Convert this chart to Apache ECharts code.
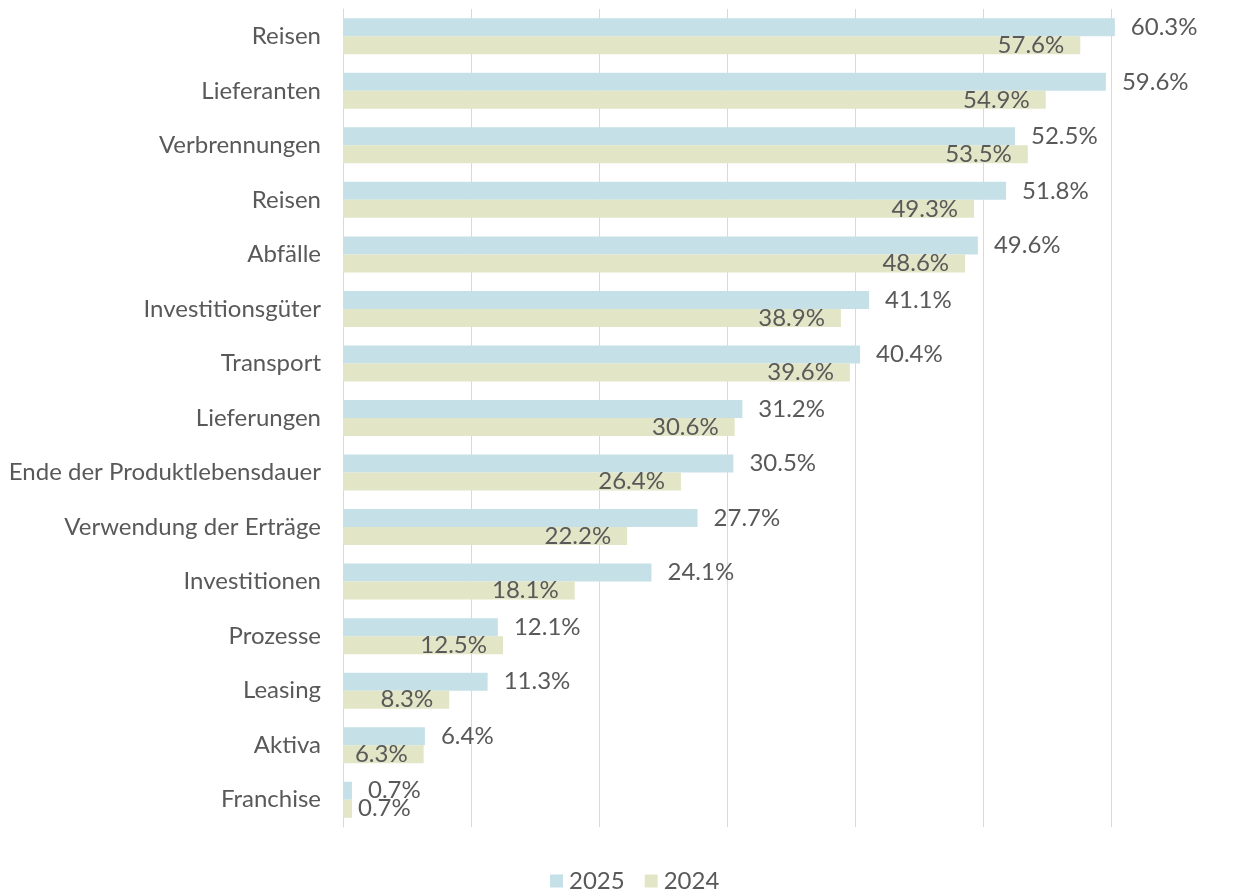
<!DOCTYPE html>
<html>
<head>
<meta charset="utf-8">
<script src="https://cdn.jsdelivr.net/npm/echarts@6/dist/echarts.min.js"></script>
<style>
  html, body { margin: 0; padding: 0; background: #fff; }
  #chart { width: 1236px; height: 891px; }
</style>
</head>
<body>
<div id="chart"></div>
<script>
const categories = ['Reisen', 'Lieferanten', 'Verbrennungen', 'Reisen', 'Abfälle', 'Investitionsgüter', 'Transport',
  'Lieferungen', 'Ende der Produktlebensdauer', 'Verwendung der Erträge', 'Investitionen', 'Prozesse', 'Leasing', 'Aktiva', 'Franchise'];
const values2025 = [60.3, 59.6, 52.5, 51.8, 49.6, 41.1, 40.4, 31.2, 30.5, 27.7, 24.1, 12.1, 11.3, 6.4, 0.7];
const values2024 = [57.6, 54.9, 53.5, 49.3, 48.6, 38.9, 39.6, 30.6, 26.4, 22.2, 18.1, 12.5, 8.3, 6.3, 0.7];

const textColor = '#595959';
const fontFamily = 'Lato, "Noto Sans", sans-serif';
const fontSize = 24;

const chart = echarts.init(document.getElementById('chart'));

// 2024 labels sit inside the bar end; tiny bars get the label outside
const data2024 = values2024.map(v => v < 3
  ? { value: v, label: { position: 'right', distance: 6 } }
  : v);

chart.setOption({
  animation: false,
  textStyle: { fontFamily: fontFamily },
  legend: {
    top: 864,
    left: 545,
    padding: 5,
    itemWidth: 13,
    itemHeight: 13,
    itemGap: 20,
    icon: 'rect',
    textStyle: { color: textColor, fontSize: fontSize, fontFamily: fontFamily, padding: [0, 0, 0, 1] },
    data: ['2025', '2024']
  },
  grid: { left: 343, right: 125, top: 9, bottom: 64 },
  xAxis: {
    type: 'value',
    min: 0,
    max: 60,
    interval: 10,
    axisLabel: { show: false },
    axisLine: { show: false },
    axisTick: { show: false },
    splitLine: { lineStyle: { color: '#d9d9d9', width: 1 } }
  },
  yAxis: {
    type: 'category',
    inverse: true,
    data: categories,
    axisLine: { show: true, lineStyle: { color: '#d9d9d9' } },
    axisTick: { show: false },
    axisLabel: { color: textColor, fontSize: fontSize, fontFamily: fontFamily, margin: 22 }
  },
  series: [
    {
      name: '2025',
      type: 'bar',
      data: values2025,
      barWidth: 18,
      barGap: '0%',
      clip: false,
      itemStyle: { color: '#c5e1e7' },
      label: {
        show: true,
        position: 'right',
        distance: 16,
        color: textColor,
        fontSize: fontSize,
        fontFamily: fontFamily,
        formatter: p => p.value.toFixed(1) + '%'
      }
    },
    {
      name: '2024',
      type: 'bar',
      data: data2024,
      barWidth: 18,
      barGap: '0%',
      clip: false,
      itemStyle: { color: '#e2e6c6' },
      label: {
        show: true,
        position: 'insideRight',
        distance: 16,
        color: textColor,
        fontSize: fontSize,
        fontFamily: fontFamily,
        formatter: p => p.value.toFixed(1) + '%'
      }
    }
  ]
});
</script>
</body>
</html>
